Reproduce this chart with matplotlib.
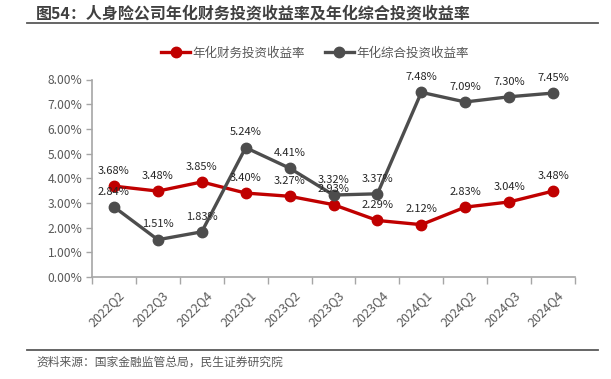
import matplotlib
matplotlib.use("Agg")
import matplotlib.pyplot as plt
from matplotlib.lines import Line2D
from matplotlib.ticker import FuncFormatter, FixedLocator
from matplotlib.transforms import ScaledTranslation

plt.rcParams['font.family'] = ['Noto Sans CJK SC', 'DejaVu Sans']

title = "图54：人身险公司年化财务投资收益率及年化综合投资收益率"
source = "资料来源：国家金融监管总局，民生证券研究院"
categories = ["2022Q2", "2022Q3", "2022Q4", "2023Q1", "2023Q2", "2023Q3",
              "2023Q4", "2024Q1", "2024Q2", "2024Q3", "2024Q4"]
series_names = ["年化财务投资收益率", "年化综合投资收益率"]
finance_yield = [3.68, 3.48, 3.85, 3.40, 3.27, 2.93, 2.29, 2.12, 2.83, 3.04, 3.48]
total_yield = [2.84, 1.51, 1.83, 5.24, 4.41, 3.32, 3.37, 7.48, 7.09, 7.30, 7.45]

RED = "#C00000"
GRAY = "#4D4D4D"
AXC = "#A6A6A6"
TXT = "#595959"

W, H = 611, 379
fig = plt.figure(figsize=(W / 100, H / 100), dpi=100)
ax = fig.add_axes([92 / W, 1 - 277 / H, (575 - 92) / W, (277 - 79.5) / H])

x = list(range(len(categories)))
ax.plot(x, finance_yield, color=RED, lw=2.4, marker='o', ms=7.5, label=series_names[0], zorder=3)
ax.plot(x, total_yield, color=GRAY, lw=2.4, marker='o', ms=7.5, label=series_names[1], zorder=3)

for xi, v in zip(x, finance_yield):
    ax.annotate(f"{v:.2f}%", (xi, v), xytext=(0, 11), textcoords='offset points',
                ha='center', va='center', fontsize=8, color="#262626", zorder=4)
for xi, v in zip(x, total_yield):
    ax.annotate(f"{v:.2f}%", (xi, v), xytext=(0, 11), textcoords='offset points',
                ha='center', va='center', fontsize=8, color="#262626", zorder=4)

ax.set_xlim(-0.5, len(categories) - 0.5)
ax.set_ylim(0, 8)
ax.set_yticks([0, 1, 2, 3, 4, 5, 6, 7, 8])
ax.yaxis.set_major_formatter(FuncFormatter(lambda v, p: f"{v:.2f}%"))

ax.set_xticks(x)
ax.set_xticklabels(categories, rotation=45, ha='right', rotation_mode='anchor',
                   fontsize=9, color=TXT)
ax.tick_params(axis='x', which='major', length=0, pad=8)
shift = ScaledTranslation(4 / 100, 0, fig.dpi_scale_trans)
for lab in ax.get_xticklabels():
    lab.set_transform(lab.get_transform() + shift)
ax.xaxis.set_minor_locator(FixedLocator([i - 0.5 for i in range(len(categories) + 1)]))
ax.tick_params(axis='x', which='minor', length=5, width=1, color=AXC, direction='out')
ax.tick_params(axis='y', length=4, width=1, color=AXC, direction='out', labelsize=8.7,
               labelcolor=TXT, pad=3)

for s in ['top', 'right']:
    ax.spines[s].set_visible(False)
for s in ['left', 'bottom']:
    ax.spines[s].set_color(AXC)
    ax.spines[s].set_linewidth(1.2)

leg = fig.legend(loc='center', bbox_to_anchor=(315 / W, 1 - 53 / H), ncol=2, frameon=False,
                 fontsize=9, handlelength=2.3, handletextpad=0.2, columnspacing=1.6,
                 labelcolor=TXT)

fig.text(36 / W, 1 - 13 / H, title, fontsize=11.5, fontweight='bold', color="#404040",
         ha='left', va='center')
fig.add_artist(Line2D([27 / W, 598 / W], [1 - 22.5 / H, 1 - 22.5 / H], color="#595959", lw=1.3))
fig.add_artist(Line2D([27 / W, 598 / W], [1 - 350 / H, 1 - 350 / H], color="#595959", lw=1.3))
fig.text(36 / W, 1 - 362 / H, source, fontsize=8.5, color=TXT, ha='left', va='center')

fig.savefig("out.png", dpi=100)
